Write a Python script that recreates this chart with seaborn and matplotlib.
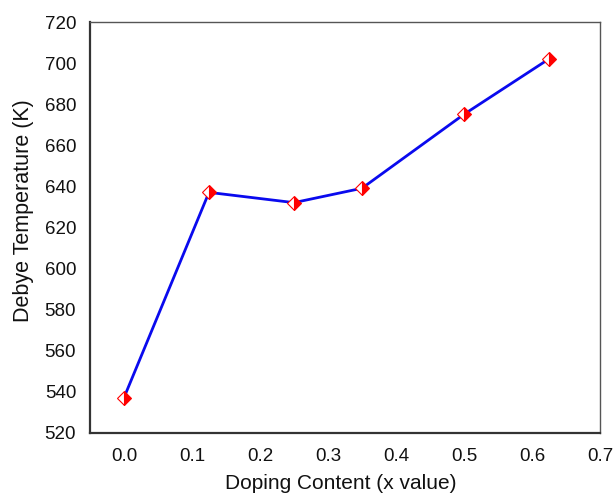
import matplotlib
matplotlib.use('Agg')
import matplotlib.pyplot as plt
import seaborn as sns
import pandas as pd

# values
doping = [0.0, 0.125, 0.25, 0.35, 0.5, 0.625]
debye_temp = [537, 637, 632, 639, 675, 702]

df = pd.DataFrame({'Doping': doping, 'Debye': debye_temp})

sns.set_style('white')
plt.rcParams['font.family'] = ['Liberation Sans', 'DejaVu Sans']

fig = plt.figure(figsize=(6.14, 4.96), dpi=100)
ax = fig.add_axes([0.1466, 0.128, 0.8304, 0.8276])

sns.lineplot(data=df, x='Doping', y='Debye', ax=ax, color='#0a0aee', linewidth=2,
             marker='D', markersize=7.5, fillstyle='right', markerfacecolor='red',
             markerfacecoloralt='white', markeredgecolor='red', markeredgewidth=0.8)

ax.set_xlim(-0.05, 0.7)
ax.set_ylim(520, 720)
ax.set_xticks([0.0, 0.1, 0.2, 0.3, 0.4, 0.5, 0.6, 0.7])
ax.set_yticks(range(520, 721, 20))
ax.tick_params(axis='both', length=0, labelsize=13.5, labelcolor='#111111')
ax.tick_params(axis='y', pad=10)
ax.tick_params(axis='x', pad=11)
ax.set_xlabel('Doping Content (x value)', fontsize=15, color='#111111')
ax.set_ylabel('Debye Temperature (K)', fontsize=15.5, color='#111111')
ax.xaxis.set_label_coords(0.492, -0.1)
ax.yaxis.set_label_coords(-0.11, 0.54)

for side in ['left', 'bottom']:
    ax.spines[side].set_color('#333333')
    ax.spines[side].set_linewidth(1.6)
for side in ['top', 'right']:
    ax.spines[side].set_color('#555555')
    ax.spines[side].set_linewidth(1.0)

fig.savefig('out.png', dpi=100)
